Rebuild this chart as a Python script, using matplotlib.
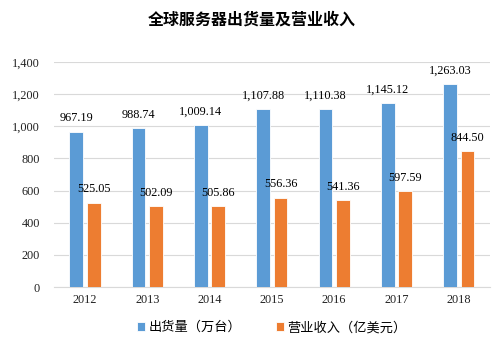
import numpy as np
import matplotlib.pyplot as plt

plt.rcParams['font.family'] = ['Liberation Serif', 'Noto Sans CJK SC']

years = ['2012', '2013', '2014', '2015', '2016', '2017', '2018']
shipments = [967.19, 988.74, 1009.14, 1107.88, 1110.38, 1145.12, 1263.03]
revenue = [525.05, 502.09, 505.86, 556.36, 541.36, 597.59, 844.50]

fig = plt.figure(figsize=(5.03, 3.37), dpi=100)
ax = fig.add_axes([0.107, 0.148, 0.867, 0.668])

x = np.arange(len(years))
w = 0.22
off = 0.14
ax.bar(x - off, shipments, w, color='#5B9BD5', edgecolor='white', linewidth=0.6,
       label='出货量（万台）', zorder=3)
ax.bar(x + off, revenue, w, color='#ED7D31', edgecolor='white', linewidth=0.6,
       label='营业收入（亿美元）', zorder=3)

for xi, v in zip(x, shipments):
    ax.text(xi - off, v + 45, f'{v:,.2f}', ha='center', va='bottom', fontsize=8.8)
for xi, v in zip(x, revenue):
    ax.text(xi + off, v + 45, f'{v:,.2f}', ha='center', va='bottom', fontsize=8.8)

ax.set_xlim(-0.5, len(years) - 0.5)
ax.set_ylim(0, 1400)
ax.set_yticks(range(0, 1401, 200))
ax.set_yticklabels([f'{v:,}' for v in range(0, 1401, 200)])
ax.set_xticks(x)
ax.set_xticklabels(years)
ax.tick_params(length=0, labelsize=8.8, colors='#222222')
ax.tick_params(axis='y', pad=10)
ax.tick_params(axis='x', pad=5)
ax.grid(axis='y', color='#d9d9d9', linewidth=0.8, zorder=0)
for s in ['top', 'right', 'left']:
    ax.spines[s].set_visible(False)
ax.spines['bottom'].set_color('#d9d9d9')

fig.suptitle('全球服务器出货量及营业收入', y=0.965, fontsize=11.5, fontweight='bold',
             family=['Noto Sans CJK SC'])

ax.legend(loc='center', bbox_to_anchor=(0.5, -0.18), ncol=2, frameon=False,
          prop={'family': ['Noto Sans CJK SC'], 'size': 9.5},
          handlelength=0.6, handleheight=0.6, handletextpad=0.3, columnspacing=2.6)

fig.savefig('out.png', dpi=100)
